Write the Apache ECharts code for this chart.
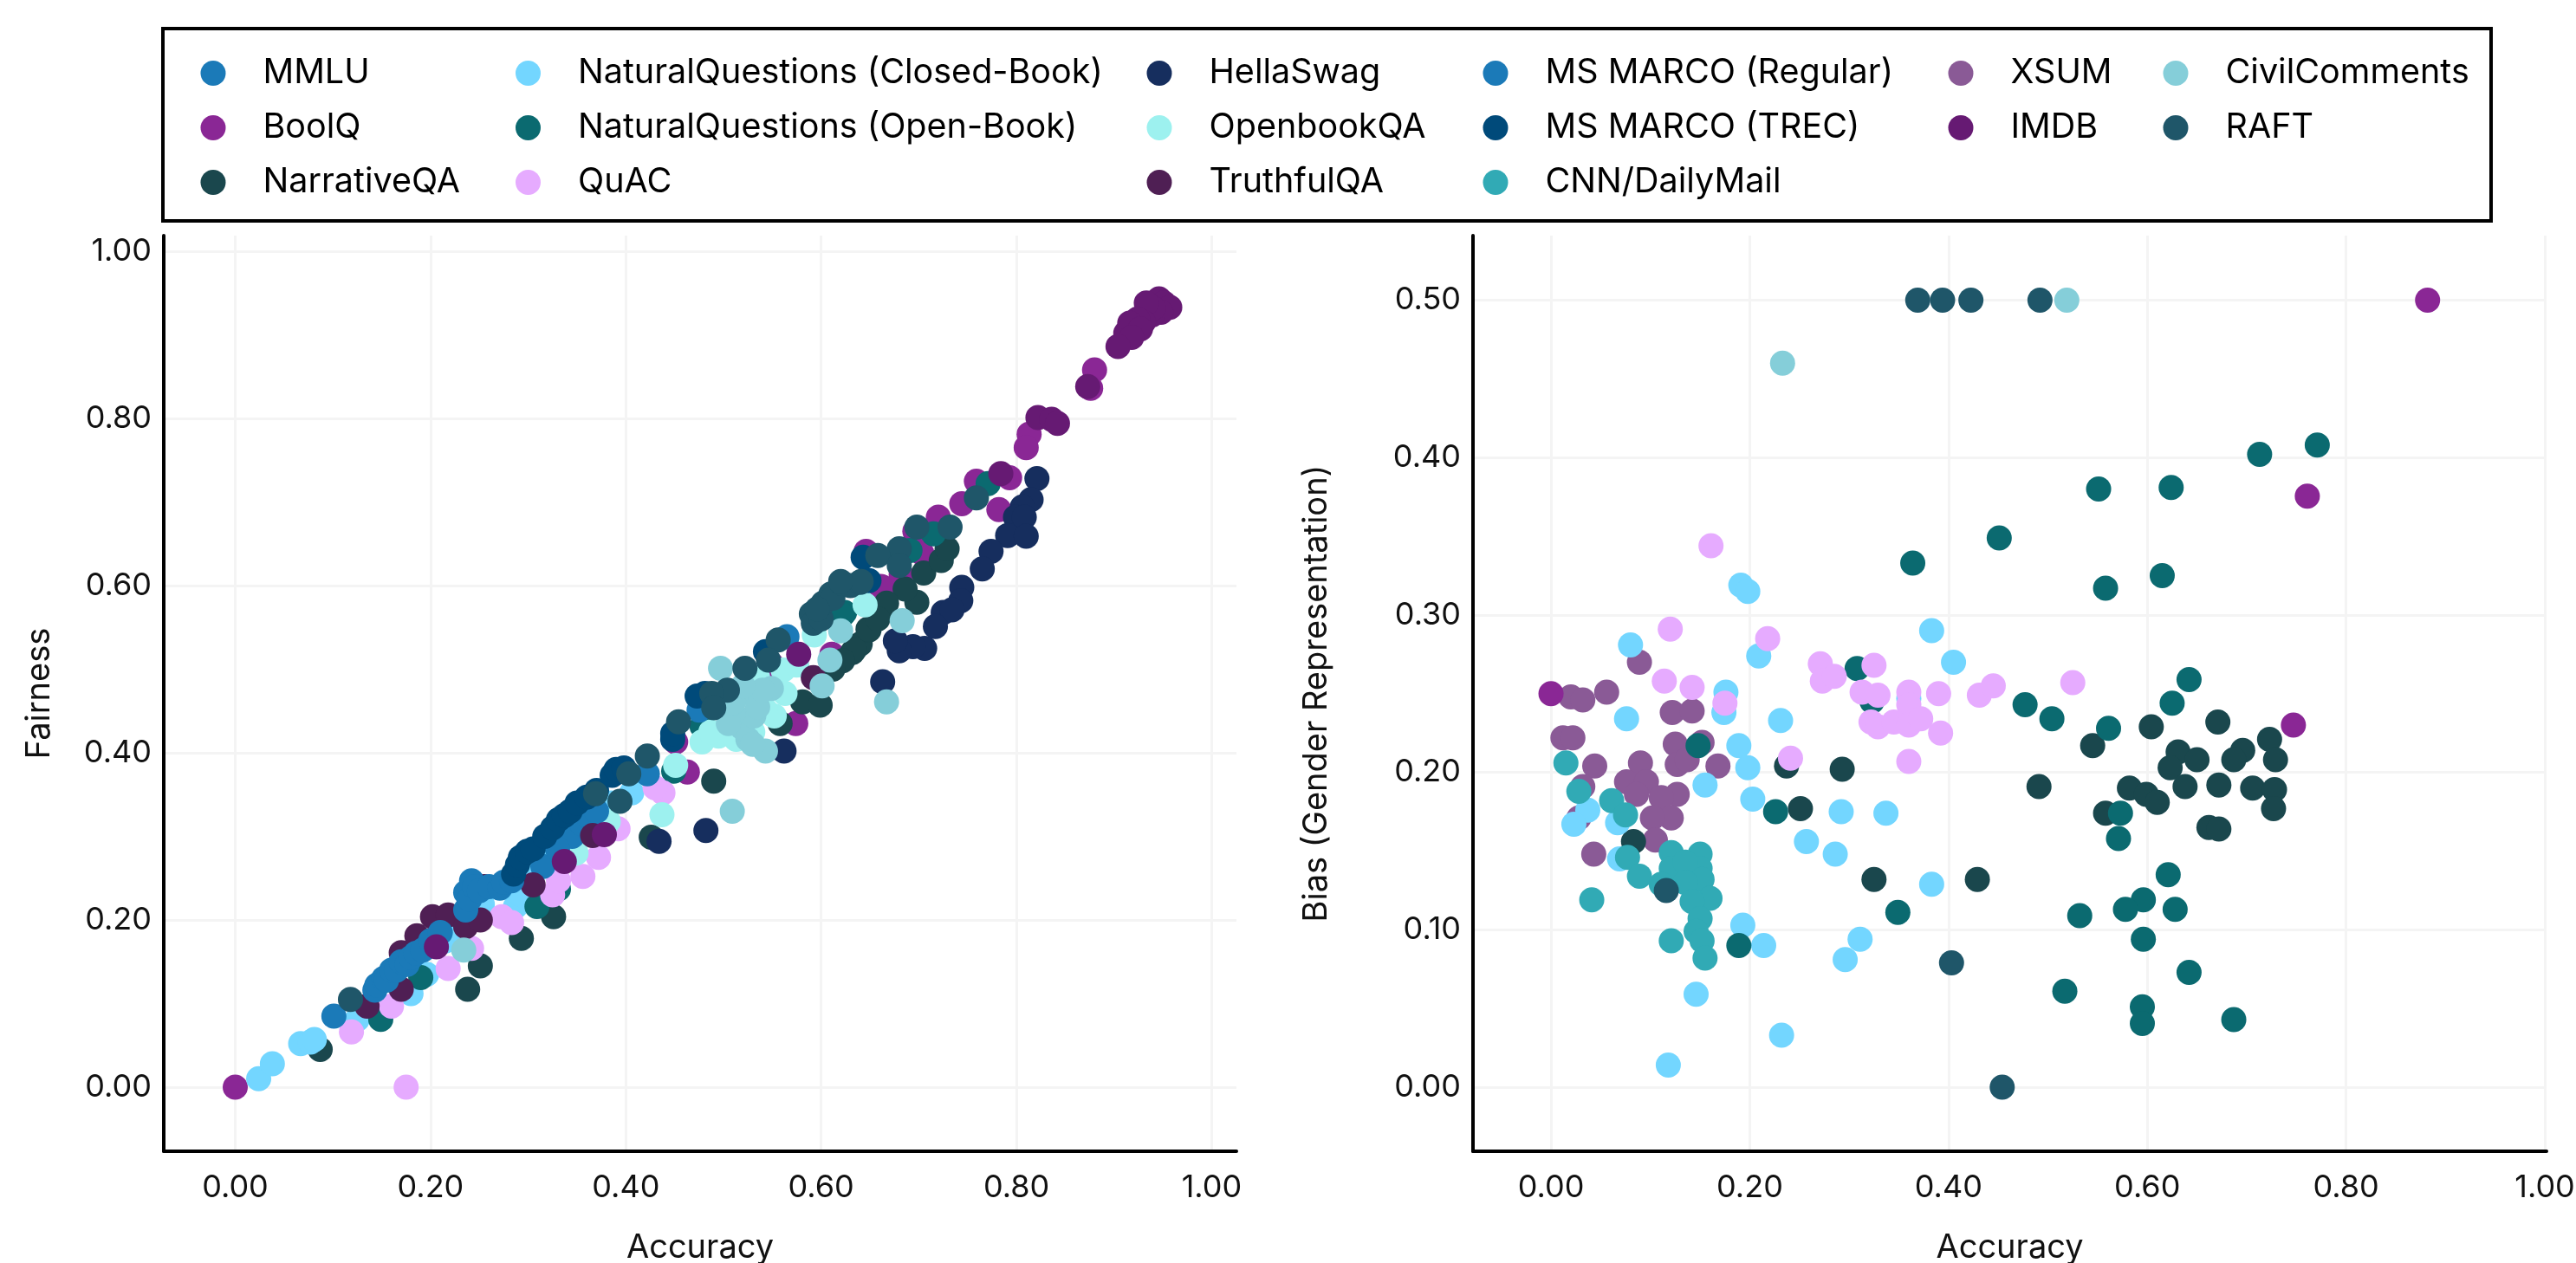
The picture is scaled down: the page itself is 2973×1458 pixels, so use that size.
<!DOCTYPE html>
<html>
<head>
<meta charset="utf-8">
<script src="https://cdn.jsdelivr.net/npm/echarts@6/dist/echarts.min.js"></script>
<style>html,body{margin:0;padding:0;background:#fff}#c{width:2973px;height:1458px}</style>
</head>
<body>
<div id="c"></div>
<script>
// Left panel: [Accuracy, Fairness]
const fairMMLU=[[.101,.085],[.143,.116],[.145,.122],[.152,.130],[.155,.128],[.160,.140],[.165,.140],[.170,.150],[.176,.147],[.180,.155],[.185,.160],[.192,.164],[.200,.175],[.210,.185],[.236,.212],[.236,.233],[.240,.225],[.242,.247],[.245,.240],[.250,.235],[.260,.240],[.271,.238],[.275,.245],[.283,.247]];
const fairBoolQ=[[0,0],[.880,.858],[.876,.836],[.813,.781],[.810,.765],[.793,.729],[.759,.725],[.782,.691],[.744,.698],[.720,.682],[.703,.639],[.696,.665],[.646,.641],[.663,.598],[.682,.613],[.574,.435],[.463,.377],[.451,.413],[.549,.506],[.611,.518],[.661,.599]];
const fairNarrativeQA=[[.087,.045],[.238,.117],[.251,.145],[.293,.178],[.326,.204],[.426,.299],[.490,.366],[.558,.435],[.581,.461],[.599,.457],[.632,.520],[.640,.530],[.649,.547],[.664,.572],[.698,.580],[.686,.596],[.705,.615],[.723,.630],[.729,.644],[.667,.579],[.634,.523],[.622,.510],[.648,.548],[.658,.560],[.612,.500]];
const fairNQClosed=[[.024,.010],[.038,.028],[.067,.052],[.077,.054],[.081,.057],[.125,.081],[.180,.112],[.196,.135],[.253,.219],[.287,.216],[.293,.230],[.327,.282],[.406,.352],[.215,.175],[.225,.190],[.305,.255],[.345,.300],[.370,.325],[.385,.340]];
const fairNQOpen=[[.149,.081],[.190,.131],[.309,.216],[.331,.237],[.349,.304],[.449,.378],[.478,.432],[.624,.568],[.622,.565],[.715,.662],[.771,.722],[.691,.642]];
const fairQuAC=[[.175,0],[.119,.066],[.160,.097],[.218,.142],[.242,.166],[.273,.204],[.283,.197],[.325,.230],[.331,.247],[.356,.252],[.372,.275],[.392,.309],[.438,.352],[.430,.358]];
const fairHellaSwag=[[.821,.728],[.815,.703],[.806,.694],[.799,.682],[.808,.682],[.791,.660],[.810,.659],[.774,.641],[.765,.620],[.744,.598],[.743,.582],[.725,.568],[.734,.571],[.717,.551],[.706,.525],[.694,.527],[.680,.522],[.676,.534],[.663,.485],[.562,.402],[.434,.294],[.482,.307]];
const fairOpenbookQA=[[.593,.541],[.645,.577],[.451,.385],[.437,.326],[.478,.413],[.495,.420],[.513,.416],[.561,.499],[.552,.444],[.563,.471],[.543,.451],[.349,.280],[.382,.318],[.530,.425],[.575,.505],[.535,.490],[.505,.430],[.487,.425]];
const fairTruthfulQA=[[.135,.097],[.170,.117],[.170,.161],[.186,.181],[.202,.204],[.218,.206],[.236,.192],[.251,.200],[.255,.240],[.305,.242],[.366,.301],[.592,.490]];
const fairMSRegular=[[.315,.264],[.345,.300],[.355,.315],[.362,.323],[.370,.330],[.422,.375],[.565,.539],[.475,.451],[.330,.285]];
const fairMSTrec=[[.285,.255],[.289,.266],[.292,.275],[.299,.282],[.305,.285],[.317,.300],[.325,.310],[.331,.320],[.337,.325],[.343,.330],[.350,.340],[.360,.347],[.370,.355],[.386,.373],[.390,.380],[.398,.382],[.448,.416],[.643,.634],[.649,.606],[.448,.423],[.481,.471],[.543,.521],[.473,.468]];
const fairIMDB=[[.946,.943],[.951,.938],[.957,.933],[.948,.927],[.939,.924],[.940,.932],[.933,.938],[.930,.915],[.924,.919],[.922,.905],[.916,.914],[.912,.902],[.927,.907],[.918,.897],[.904,.886],[.873,.838],[.822,.801],[.836,.799],[.842,.794],[.784,.734],[.206,.168],[.337,.270],[.378,.302],[.577,.518]];
const fairCivilComments=[[.497,.501],[.543,.402],[.525,.416],[.519,.430],[.531,.444],[.510,.447],[.528,.471],[.549,.477],[.620,.546],[.609,.511],[.601,.480],[.683,.558],[.667,.461],[.509,.330],[.234,.164],[.515,.470],[.535,.455],[.540,.475],[.505,.435],[.530,.410],[.510,.460],[.520,.480]];
const fairRAFT=[[.556,.535],[.546,.511],[.522,.501],[.504,.475],[.488,.471],[.490,.454],[.454,.437],[.590,.566],[.592,.555],[.600,.560],[.602,.579],[.610,.590],[.612,.585],[.621,.603],[.630,.600],[.640,.604],[.698,.670],[.732,.670],[.759,.705],[.680,.644],[.658,.636],[.680,.624],[.641,.605],[.620,.605],[.596,.572],[.422,.396],[.403,.375],[.394,.342],[.369,.351],[.118,.105]];

// Right panel: [Accuracy, Bias]
const biasBoolQ=[[0,.25],[.882,.5],[.761,.3755],[.747,.230]];
const biasNarrativeQA=[[.237,.204],[.293,.202],[.251,.177],[.083,.156],[.325,.132],[.429,.132],[.491,.191],[.545,.217],[.604,.229],[.671,.232],[.723,.221],[.729,.208],[.631,.213],[.650,.208],[.623,.203],[.638,.191],[.672,.192],[.706,.190],[.728,.189],[.727,.177],[.696,.214],[.687,.208],[.582,.190],[.599,.186],[.610,.181],[.558,.174],[.662,.165],[.672,.164]];
const biasNQClosed=[[.191,.319],[.198,.315],[.080,.281],[.209,.274],[.383,.290],[.405,.270],[.076,.234],[.176,.251],[.174,.238],[.231,.233],[.189,.217],[.198,.203],[.155,.192],[.203,.183],[.292,.175],[.337,.174],[.257,.156],[.286,.148],[.037,.176],[.023,.167],[.067,.168],[.069,.145],[.383,.129],[.311,.094],[.296,.081],[.193,.103],[.214,.090],[.146,.059],[.232,.033],[.118,.014],[.360,.247]];
const biasNQOpen=[[.308,.266],[.148,.217],[.226,.175],[.349,.111],[.189,.090],[.323,.245],[.364,.333],[.451,.349],[.551,.380],[.624,.381],[.558,.317],[.615,.325],[.713,.402],[.771,.408],[.477,.243],[.504,.234],[.561,.228],[.625,.244],[.642,.259],[.573,.174],[.571,.158],[.621,.135],[.596,.119],[.578,.113],[.628,.113],[.532,.109],[.596,.094],[.642,.073],[.517,.061],[.595,.051],[.595,.0405],[.687,.043]];
const biasQuAC=[[.120,.291],[.218,.285],[.161,.344],[.114,.258],[.142,.254],[.175,.244],[.241,.209],[.271,.269],[.273,.258],[.285,.261],[.325,.268],[.313,.251],[.329,.249],[.322,.232],[.329,.229],[.360,.251],[.360,.243],[.345,.232],[.360,.230],[.372,.234],[.390,.250],[.392,.225],[.360,.207],[.431,.249],[.445,.255],[.525,.257]];
const biasCNN=[[.015,.206],[.028,.188],[.061,.182],[.075,.173],[.077,.146],[.089,.134],[.041,.119],[.121,.149],[.150,.148],[.121,.139],[.150,.139],[.135,.143],[.152,.132],[.111,.129],[.135,.130],[.160,.120],[.142,.118],[.150,.107],[.146,.099],[.152,.093],[.121,.093],[.155,.082]];
const biasXSUM=[[.020,.248],[.032,.246],[.056,.251],[.089,.270],[.122,.238],[.142,.239],[.012,.222],[.022,.222],[.044,.204],[.125,.218],[.152,.219],[.127,.205],[.137,.208],[.168,.204],[.090,.206],[.076,.194],[.096,.194],[.086,.186],[.127,.186],[.111,.184],[.121,.171],[.102,.171],[.105,.157],[.032,.191],[.028,.171],[.043,.148]];
const biasCivilComments=[[.519,.5],[.233,.460]];
const biasRAFT=[[.116,.125],[.403,.079],[.454,0],[.369,.5],[.394,.5],[.4225,.5],[.492,.5]];

const accuracyTicks=[0,.2,.4,.6,.8,1];
const fairnessTicks=[0,.2,.4,.6,.8,1];
const biasTicks=[0,.1,.2,.3,.4,.5];

const legendColumns=[
 ["MMLU","BoolQ","NarrativeQA"],
 ["NaturalQuestions (Closed-Book)","NaturalQuestions (Open-Book)","QuAC"],
 ["HellaSwag","OpenbookQA","TruthfulQA"],
 ["MS MARCO (Regular)","MS MARCO (TREC)","CNN/DailyMail"],
 ["XSUM","IMDB"],
 ["CivilComments","RAFT"]
];
const legendCentres=[246,609.5,1338,1726,2263,2511];
const colours={"MMLU":"#1b7ab8","BoolQ":"#8a2795","NarrativeQA":"#1a474d","QuAC":"#e6abff","NaturalQuestions (Closed-Book)":"#73d6ff","NaturalQuestions (Open-Book)":"#0b6a70","HellaSwag":"#162e5e","OpenbookQA":"#9df1ef","TruthfulQA":"#4f1f54","MS MARCO (Regular)":"#1b7ab8","MS MARCO (TREC)":"#004a7a","CNN/DailyMail":"#31aab5","XSUM":"#8a5a96","IMDB":"#661a73","CivilComments":"#85ced9","RAFT":"#1f5669"};

// Drawing order (back to front)
const drawn=[
 ["XSUM",[],biasXSUM],["BoolQ",fairBoolQ,biasBoolQ],["NarrativeQA",fairNarrativeQA,biasNarrativeQA],
 ["NaturalQuestions (Closed-Book)",fairNQClosed,biasNQClosed],["NaturalQuestions (Open-Book)",fairNQOpen,biasNQOpen],["QuAC",fairQuAC,biasQuAC],
 ["HellaSwag",fairHellaSwag,[]],["OpenbookQA",fairOpenbookQA,[]],["MS MARCO (Regular)",fairMSRegular,[]],["TruthfulQA",fairTruthfulQA,[]],["MMLU",fairMMLU,[]],
 ["MS MARCO (TREC)",fairMSTrec,[]],["CNN/DailyMail",[],biasCNN],["IMDB",fairIMDB,[]],
 ["CivilComments",fairCivilComments,biasCivilComments],["RAFT",fairRAFT,biasRAFT]
];

const FONT='Inter, "Noto Sans", sans-serif';
const series=[];
drawn.forEach(([name,l,r])=>{
  [l,r].forEach((d,i)=>{
    series.push({name,type:'scatter',xAxisIndex:i,yAxisIndex:i,data:d,symbol:'circle',symbolSize:29,
      itemStyle:{color:colours[name],opacity:1},clip:false,silent:true,animation:false});
  });
});
const valueAxis=(ticks,extra,labelExtra)=>Object.assign({type:'value',scale:true,
  axisLine:{show:true,onZero:false,lineStyle:{color:'#000',width:4}},
  axisTick:{show:false,customValues:ticks},
  splitLine:{show:true,lineStyle:{color:'#f4f4f4',width:3}},
  axisLabel:Object.assign({customValues:ticks,color:'#111',fontFamily:FONT,fontSize:36,hideOverlap:false,showMinLabel:true,showMaxLabel:true,formatter:v=>v.toFixed(2)},labelExtra),
  nameLocation:'middle',nameTextStyle:{color:'#111',fontFamily:FONT,fontSize:38}},extra);
const xLabel={margin:24}, yLabel={margin:14,padding:[6,0,0,0]};

const option={
 backgroundColor:'#fff',animation:false,
 graphic:[{type:'rect',z:-1,shape:{x:188,y:33,width:2687,height:222},style:{fill:'#fff',stroke:'#000',lineWidth:4},silent:true}],
 legend:legendColumns.map((names,i)=>({data:names,orient:'vertical',left:legendCentres[i]-14.5,top:64.5,padding:0,itemGap:23,itemWidth:29,itemHeight:29,icon:'circle',selectedMode:false,
   textStyle:{color:'#000',fontFamily:FONT,fontSize:39.5,lineHeight:39.5,padding:[0,0,0,38]}})),
 grid:[
  {left:189,right:2973-1427,top:272,bottom:1458-1329,containLabel:false,outerBoundsMode:'none'},
  {left:1700,right:2973-2939,top:272,bottom:1458-1329,containLabel:false,outerBoundsMode:'none'}
 ],
 xAxis:[
  valueAxis(accuracyTicks,{gridIndex:0,min:-0.0732,max:1.0253,name:'Accuracy',nameGap:93},xLabel),
  valueAxis(accuracyTicks,{gridIndex:1,min:-0.0785,max:1.0017,name:'Accuracy',nameGap:93},xLabel)
 ],
 yAxis:[
  valueAxis(fairnessTicks,{gridIndex:0,min:-0.0767,max:1.0187,name:'Fairness',nameGap:124},yLabel),
  valueAxis(biasTicks,{gridIndex:1,min:-0.0407,max:0.541,name:'Bias (Gender Representation)',nameGap:161},yLabel)
 ],
 series
};
echarts.init(document.getElementById('c'),null,{renderer:'canvas'}).setOption(option);
</script>
</body>
</html>
